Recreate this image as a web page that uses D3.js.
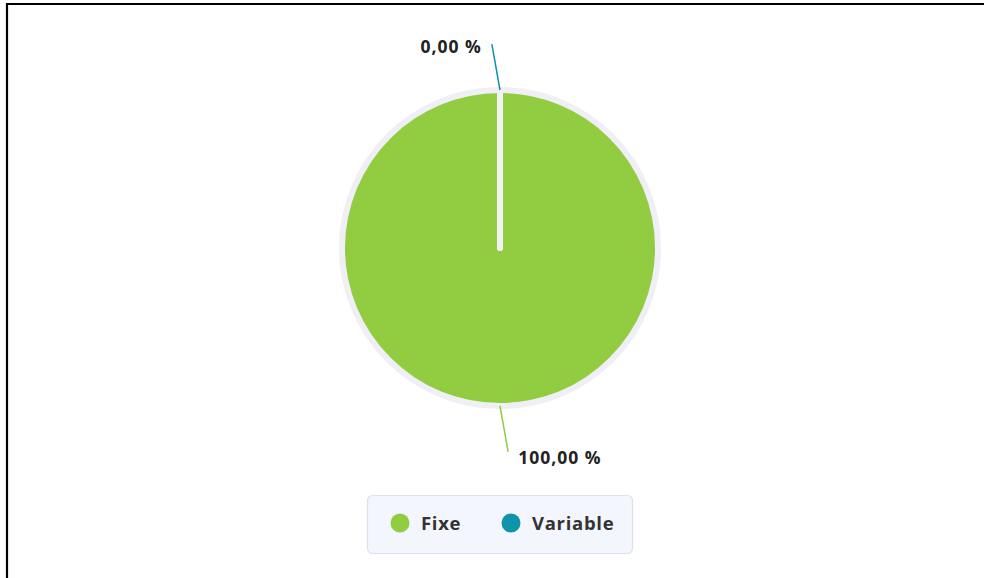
<!DOCTYPE html>
<html><head><meta charset="utf-8">
<script src="https://cdn.jsdelivr.net/npm/d3@7"></script>
<style>
html,body{margin:0;padding:0;background:#fff;}
svg{display:block;font-family:"Open Sans","Noto Sans",sans-serif;}
</style></head>
<body>
<svg id="chart" width="984" height="578"></svg>
<script>
const categories = ["Fixe", "Variable"];
const values = [100, 0];
const labels = ["100,00 %", "0,00 %"];
const colors = ["#92cd41", "#0f93a8"];

const svg = d3.select("#chart");
const W = 984, H = 578;
const cx = 500, cy = 248, R = 155, ringR = 161;

// frame
svg.append("path").attr("d", `M7,${H+5} V4 H${W+5}`).attr("fill","none").attr("stroke","#000").attr("stroke-width",2.2);

const g = svg.append("g").attr("transform", `translate(${cx},${cy})`);
g.append("circle").attr("r", ringR).attr("fill", "#efeff5");

const pie = d3.pie().sort(null).value(d => d.v);
const data = pie(categories.map((c,i)=>({c, v: values[i], color: colors[i], label: labels[i]})));
const arc = d3.arc().innerRadius(0).outerRadius(R);

g.selectAll("path.slice").data(data).join("path").attr("class","slice")
  .attr("d", arc).attr("fill", d => d.data.color);

// slice separators (boundaries)
data.forEach(d => {
  const a = d.startAngle;
  g.append("line").attr("x1",0).attr("y1",0)
   .attr("x2", Math.sin(a)*(R+1)).attr("y2", -Math.cos(a)*(R+1))
   .attr("stroke","#f1f1f6").attr("stroke-width",6).attr("stroke-linecap","round");
});

// leader lines & labels
data.forEach(d => {
  const mid = (d.startAngle + d.endAngle)/2;
  const a2 = mid - 0.04;
  const x1 = Math.sin(mid)*(R+3), y1 = -Math.cos(mid)*(R+3);
  const x2 = Math.sin(a2)*(R+49), y2 = -Math.cos(a2)*(R+49);
  g.append("line").attr("x1",x1).attr("y1",y1).attr("x2",x2).attr("y2",y2)
    .attr("stroke", d.data.color).attr("stroke-width",1.5);
  const left = x2 < 0;
  g.append("text").attr("x", x2 + (left ? -10 : 10)).attr("y", y2 + (left ? 9 : 12))
    .attr("text-anchor", left ? "end" : "start")
    .attr("font-size", 17.5).attr("font-weight", 700).attr("letter-spacing", 1).attr("fill", "#222")
    .text(d.data.label);
});

// legend
const lg = svg.append("g");
lg.append("rect").attr("x",367.5).attr("y",495.5).attr("width",265).attr("height",58).attr("rx",5)
  .attr("fill","#f3f6fc").attr("stroke","#dde1ee").attr("stroke-width",1.2);
const lx = [400, 511];
categories.forEach((c,i) => {
  lg.append("circle").attr("cx", lx[i]).attr("cy", 523).attr("r", 9.5).attr("fill", colors[i]);
  lg.append("text").attr("x", lx[i]+21).attr("y", 530).attr("font-size", 18.5).attr("font-weight", 700)
    .attr("letter-spacing", 0.7).attr("fill","#333").text(c);
});
</script>
</body></html>
